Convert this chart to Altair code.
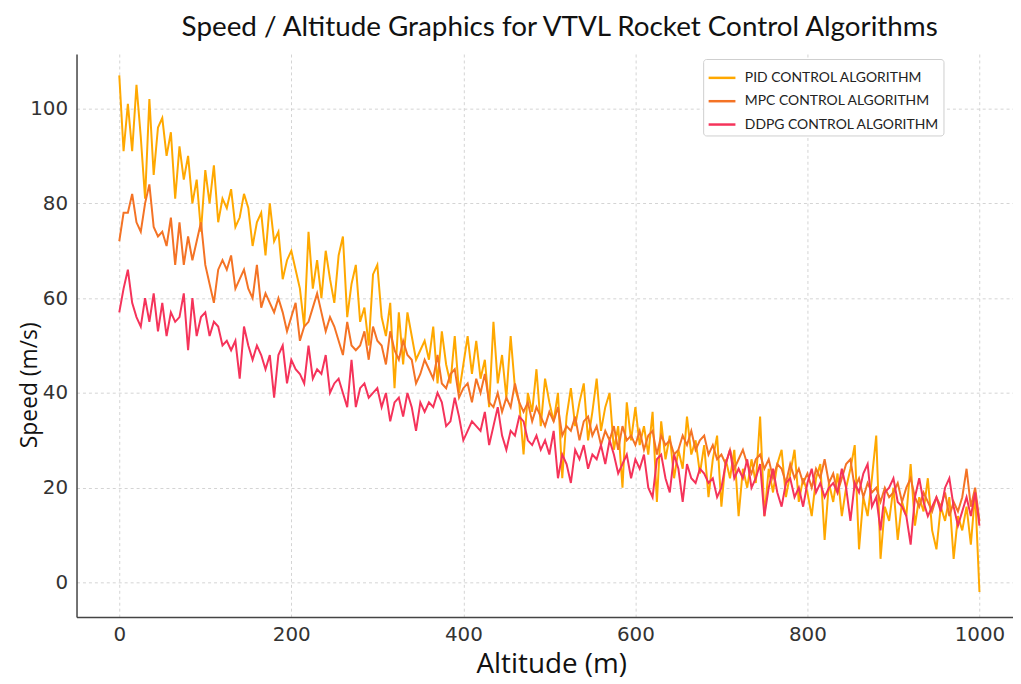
import altair as alt
import pandas as pd

altitude = list(range(0, 1001, 5))

pid = [
    107, 91, 101, 91, 105, 94, 81, 102, 86, 96, 98, 90, 95, 81, 92, 85, 90, 80, 85, 74,
    87, 80, 88, 76, 81, 79, 83, 75, 77, 82, 79, 71, 76, 78, 69, 80, 72, 74, 64, 68,
    70, 66, 62, 54, 74, 62, 68, 60, 70, 64, 59, 69, 73, 56, 63, 67, 55, 58, 50, 65,
    67, 56, 52, 59, 41, 57, 46, 57, 52, 47, 49, 51, 47, 54, 42, 53, 46, 42, 52, 40,
    46, 52, 44, 51, 43, 47, 37, 55, 42, 48, 39, 52, 41, 38, 27, 40, 36, 45, 33, 43,
    38, 34, 40, 22, 35, 41, 33, 38, 42, 30, 36, 43, 32, 37, 40, 28, 33, 20, 38, 30,
    37, 29, 33, 27, 36, 17, 34, 26, 31, 22, 28, 24, 35, 27, 30, 23, 29, 18, 26, 31,
    16, 26, 22, 28, 14, 24, 20, 26, 21, 35, 14, 24, 19, 25, 28, 18, 23, 28, 17, 22,
    19, 14, 22, 25, 9, 21, 17, 23, 14, 20, 24, 29, 7, 18, 14, 22, 31, 5, 16, 13,
    20, 9, 17, 14, 25, 12, 18, 15, 22, 11, 7, 16, 13, 18, 5, 14, 11, 16, 8, 19, -2,
]

mpc = [
    72, 78, 78, 82, 76, 74, 80, 84, 75, 73, 74, 71, 77, 67, 76, 67, 73, 68, 72, 76,
    67, 63, 59, 66, 68, 66, 69, 62, 64, 66, 62, 60, 67, 58, 61, 59, 57, 60, 57, 53,
    56, 59, 51, 54, 55, 58, 61, 57, 53, 56, 54, 51, 48, 55, 50, 49, 50, 53, 47, 54,
    51, 50, 46, 53, 49, 47, 51, 48, 47, 42, 44, 47, 45, 43, 48, 42, 41, 44, 45, 39,
    41, 42, 38, 43, 40, 44, 38, 37, 40, 36, 39, 37, 42, 38, 36, 38, 34, 37, 35, 33,
    36, 34, 37, 31, 33, 32, 35, 30, 34, 35, 31, 33, 29, 32, 30, 33, 28, 33, 30, 31,
    29, 32, 28, 31, 32, 27, 31, 29, 30, 27, 28, 31, 29, 32, 28, 30, 31, 27, 29, 26,
    27, 25, 28, 24, 26, 28, 25, 23, 26, 27, 24, 26, 22, 25, 24, 21, 25, 22, 24, 21,
    23, 20, 24, 22, 26, 21, 23, 19, 22, 25, 26, 20, 22, 18, 21, 19, 20, 17, 20, 18,
    19, 21, 17, 20, 22, 18, 16, 19, 17, 15, 18, 16, 19, 14, 17, 15, 18, 24, 16, 20, 13,
]

ddpg = [
    57, 62, 66, 59, 56, 54, 60, 55, 61, 53, 59, 52, 57, 55, 56, 61, 49, 60, 52, 56,
    57, 52, 55, 54, 50, 51, 49, 51, 43, 54, 50, 47, 50, 48, 45, 48, 39, 48, 50, 42,
    47, 45, 44, 42, 50, 43, 45, 44, 48, 40, 42, 43, 40, 37, 47, 37, 41, 42, 39, 40,
    41, 37, 40, 34, 38, 39, 35, 40, 37, 32, 38, 36, 38, 37, 40, 38, 33, 34, 39, 35,
    30, 32, 34, 33, 32, 36, 29, 33, 37, 31, 28, 32, 31, 35, 34, 30, 29, 31, 28, 30,
    27, 32, 22, 27, 25, 21, 28, 26, 29, 24, 27, 26, 29, 25, 30, 27, 23, 25, 27, 22,
    26, 24, 27, 20, 18, 26, 27, 22, 19, 27, 24, 17, 25, 22, 21, 24, 23, 21, 22, 18,
    20, 25, 28, 22, 24, 22, 26, 20, 22, 25, 14, 20, 24, 19, 16, 21, 22, 18, 20, 16,
    21, 24, 19, 21, 18, 20, 21, 19, 24, 20, 13, 21, 19, 23, 25, 16, 18, 11, 19, 20,
    22, 17, 16, 14, 8, 18, 22, 17, 14, 16, 18, 15, 20, 22, 16, 12, 15, 18, 14, 19, 12,
]

series_names = ["PID CONTROL ALGORITHM", "MPC CONTROL ALGORITHM", "DDPG CONTROL ALGORITHM"]
series_colors = ["#FFA800", "#F47325", "#F5335A"]
x_ticks = [0, 200, 400, 600, 800, 1000]
y_ticks = [0, 20, 40, 60, 80, 100]

rows = []
for name, vals in zip(series_names, [pid, mpc, ddpg]):
    for a, v in zip(altitude, vals):
        rows.append({"Altitude": a, "Speed": v, "Series": name})
df = pd.DataFrame(rows)

color = alt.Color(
    "Series:N",
    scale=alt.Scale(domain=series_names, range=series_colors),
    legend=alt.Legend(
        title=None,
        orient="none",
        legendX=631,
        legendY=5,
        symbolType="stroke",
        symbolSize=729,
        symbolStrokeWidth=2.5,
        labelFont="Lato",
        labelFontSize=14,
        labelColor="#222222",
        labelOffset=8,
        labelLimit=400,
        rowPadding=1.5,
        padding=4,
        strokeColor="#cfcfcf",
        fillColor="white",
        cornerRadius=3,
    ),
)

base = alt.Chart(df).mark_line(strokeWidth=2).encode(
    x=alt.X(
        "Altitude:Q",
        scale=alt.Scale(domain=[-49.7, 1039], nice=False, zero=False),
        axis=alt.Axis(
            values=x_ticks,
            format="d",
            title="Altitude (m)",
            titleX=478,
            titleY=48,
            titleBaseline="middle",
            titleAlign="center",
            titleFontSize=28,
            labelPadding=8,
        ),
    ),
    y=alt.Y(
        "Speed:Q",
        scale=alt.Scale(domain=[-7.3, 111.5], nice=False, zero=False),
        axis=alt.Axis(
            values=y_ticks,
            format="d",
            title="Speed (m/s)",
            titleX=-47,
            titleY=333,
            titleAngle=270,
            titleBaseline="middle",
            titleAlign="center",
            titleFontSize=23,
            labelPadding=9,
        ),
    ),
    color=color,
)

layers = [base.transform_filter(alt.datum.Series == n) for n in series_names]

chart = (
    alt.layer(*layers)
    .properties(
        width=943,
        height=567,
        autosize=alt.AutoSizeParams(type="none"),
        padding={"left": 69, "top": 44, "right": 0, "bottom": 64},
        title=alt.TitleParams(
            text="Speed / Altitude Graphics  for VTVL Rocket Control Algorithms",
            font="Lato",
            fontSize=28,
            fontWeight="normal",
            color="#111111",
            anchor="middle",
            dx=15,
            offset=12,
        ),
    )
    .configure_view(stroke=None)
    .configure_axis(
        domainColor="#444444",
        domainWidth=1.5,
        gridColor="#d4d4d4",
        gridDash=[3, 3],
        gridWidth=1,
        ticks=False,
        labelFont="DejaVu Sans",
        labelFontSize=20,
        labelColor="#333333",
        titleFont="Open Sans",
        titleFontWeight="normal",
        titleColor="#111111",
    )
)

chart.save("out.html", embed_options={"renderer": "svg", "actions": False})
